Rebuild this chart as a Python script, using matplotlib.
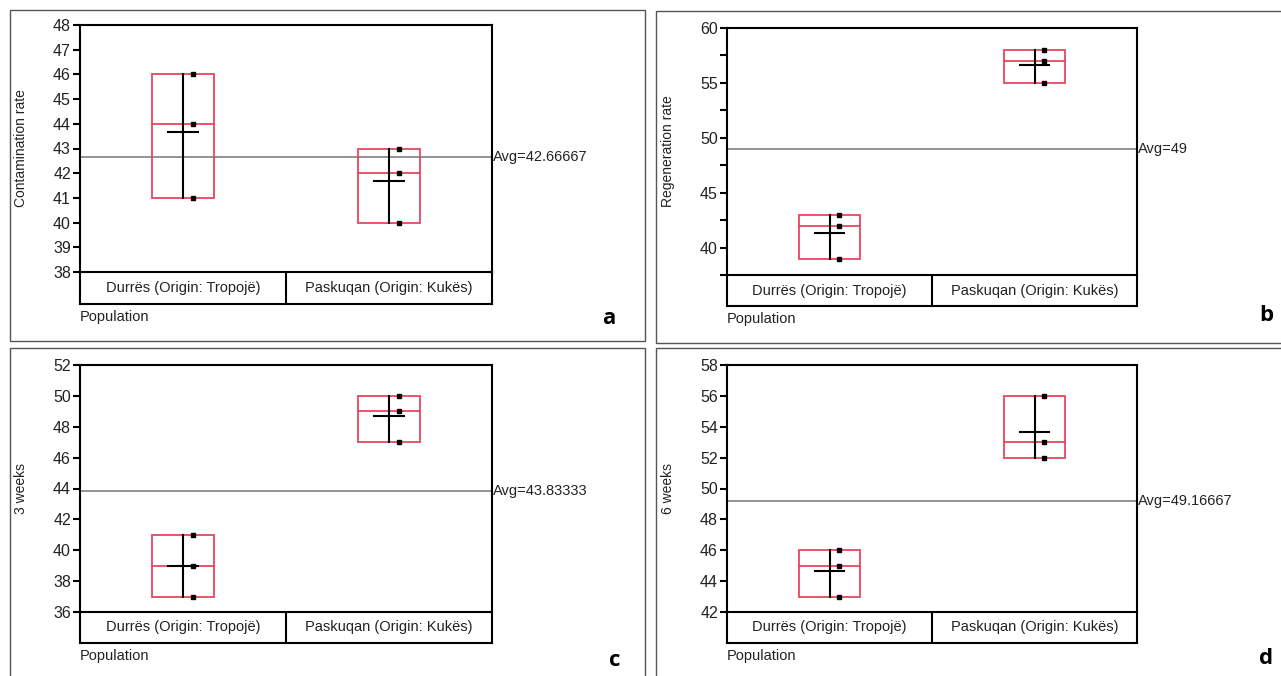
import numpy as np
import matplotlib
matplotlib.use("Agg")
import matplotlib.pyplot as plt
from matplotlib.patches import Rectangle

plt.rcParams['font.family'] = ['Liberation Sans', 'DejaVu Sans']

# Data (three replicates per population)
populations = ["Durrës (Origin: Tropojë)", "Paskuqan (Origin: Kukës)"]

durres_contam = [46, 44, 41]
paskuqan_contam = [43, 42, 40]
durres_regen = [43, 42, 39]
paskuqan_regen = [58, 57, 55]
durres_3w = [41, 39, 37]
paskuqan_3w = [50, 49, 47]
durres_6w = [46, 45, 43]
paskuqan_6w = [56, 53, 52]

ylabels = ["Contamination rate", "Regeneration rate", "3 weeks", "6 weeks"]
letters = ["a", "b", "c", "d"]

W, H = 1281, 676
BOX_RED = "#e8455f"


def px_rect(left, top, right, bottom):
    return [left / W, 1 - bottom / H, (right - left) / W, (bottom - top) / H]


fig = plt.figure(figsize=(W / 100, H / 100), dpi=100)

# outer panel frames
for (l, t, r, b) in [(10, 10, 645, 341), (656, 11, 1300, 343),
                     (10, 348, 645, 700), (656, 348, 1300, 700)]:
    fig.add_artist(Rectangle((l / W, 1 - b / H), (r - l) / W, (b - t) / H,
                             transform=fig.transFigure, fill=False,
                             edgecolor="#555555", lw=1.0, clip_on=False))

panels = [
    # data, ylim, major ticks, minor ticks, plot box (l, t, r, b), cat bottom, letter pos
    ((durres_contam, paskuqan_contam), (38, 48), np.arange(38, 49, 1), [],
     (80, 25, 492, 272), 304, (609, 318)),
    ((durres_regen, paskuqan_regen), (37.5, 60), np.arange(40, 61, 5),
     np.arange(37.5, 60, 5), (727, 28, 1137, 275), 306, (1266, 316)),
    ((durres_3w, paskuqan_3w), (36, 52), np.arange(36, 53, 2), [],
     (80, 365, 492, 612), 643, (615, 661)),
    ((durres_6w, paskuqan_6w), (42, 58), np.arange(42, 59, 2), [],
     (727, 365, 1137, 612), 643, (1266, 658)),
]

for i, (groups, ylim, majors, minors, (l, t, r, b), cb, (lx, ly)) in enumerate(panels):
    ax = fig.add_axes(px_rect(l, t, r, b))
    cax = fig.add_axes(px_rect(l, b, r, cb))

    ax.set_xlim(0, 2)
    ax.set_ylim(*ylim)
    ax.set_xticks([])
    ax.set_yticks(majors)
    ax.set_yticks(minors, minor=True)
    ax.tick_params(axis="y", which="major", direction="out", length=5,
                   width=1.5, labelsize=11.5, pad=1.5, labelcolor="#222222")
    ax.tick_params(axis="y", which="minor", direction="out", length=5, width=1.5)
    for s in ax.spines.values():
        s.set_linewidth(1.5)
    ax.spines["bottom"].set_visible(False)

    all_vals = []
    for k, vals in enumerate(groups):
        vals = np.array(vals, dtype=float)
        all_vals.extend(vals)
        c = k + 0.5
        q1, med, q3 = np.percentile(vals, [25, 50, 75], method="weibull")
        ax.add_patch(Rectangle((c - 0.15, q1), 0.30, q3 - q1, fill=False,
                               edgecolor=BOX_RED, lw=1.3, zorder=3))
        ax.plot([c - 0.15, c + 0.15], [med, med], color=BOX_RED, lw=1.3, zorder=3)
        # mean cross
        ax.plot([c, c], [vals.min(), vals.max()], color="black", lw=1.5, zorder=4)
        ax.plot([c - 0.073, c + 0.073], [vals.mean()] * 2, color="black",
                lw=1.5, zorder=4)
        ax.plot([c + 0.047] * len(vals), vals, "s", color="black",
                markersize=2.8, zorder=5)

    avg = np.mean(all_vals)
    ax.axhline(avg, color="#808080", lw=1.2, zorder=2)
    avg_txt = f"{avg:.5f}".rstrip("0").rstrip(".")
    ax.text(1.003, avg, f"Avg={avg_txt}", transform=ax.get_yaxis_transform(),
            ha="left", va="center", fontsize=10.5, color="#222222")

    ax.set_ylabel(ylabels[i], fontsize=10, color="#222222")
    ax.yaxis.set_label_coords(-52 / (r - l), 0.5)

    # category label box
    cax.set_xlim(0, 2)
    cax.set_ylim(0, 1)
    cax.set_xticks([])
    cax.set_yticks([])
    for s in cax.spines.values():
        s.set_linewidth(1.5)
    cax.axvline(1, color="black", lw=1.5)
    for k, name in enumerate(populations):
        cax.text(k + 0.5, 0.5, name, ha="center", va="center", fontsize=10.5,
                 color="#222222")

    fig.text(l / W, 1 - (cb + 13) / H, "Population", ha="left", va="center",
             fontsize=10.5, color="#222222")
    fig.text(lx / W, 1 - ly / H, letters[i], ha="center", va="center",
             fontsize=16, fontweight="bold", family="Open Sans")

fig.savefig("out.png", dpi=100)
